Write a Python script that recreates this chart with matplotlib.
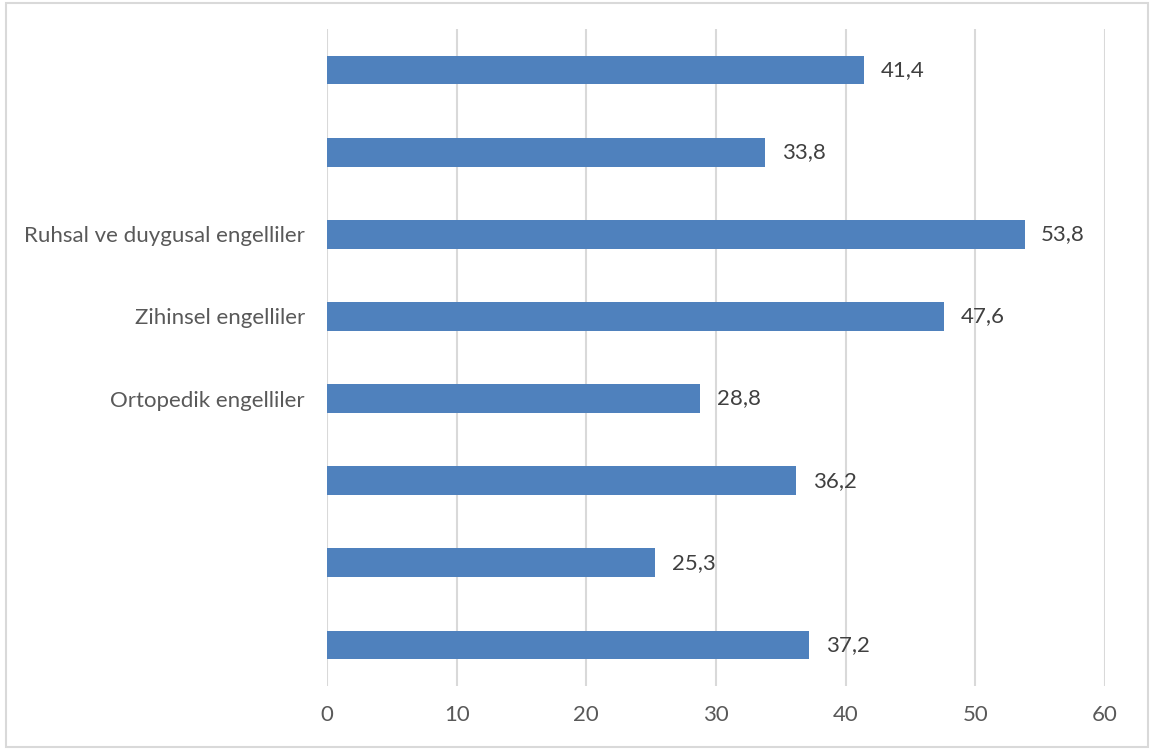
import matplotlib
matplotlib.use("Agg")
import matplotlib.pyplot as plt
from matplotlib.patches import Rectangle

# Categories listed top to bottom; unnamed groups keep an empty label
categories = ["", "", "Ruhsal ve duygusal engelliler", "Zihinsel engelliler",
              "Ortopedik engelliler", "", "", ""]
values = [41.4, 33.8, 53.8, 47.6, 28.8, 36.2, 25.3, 37.2]
x_ticks = [0, 10, 20, 30, 40, 50, 60]

plt.rcParams["font.family"] = ["Lato", "DejaVu Sans"]

fig = plt.figure(figsize=(11.58, 7.52), dpi=100)
ax = fig.add_axes([0.2824, 0.0878, 0.6718, 0.8736])

n = len(values)
ypos = list(range(n - 1, -1, -1))
ax.barh(ypos, values, height=0.35, color="#4F81BD", zorder=3)

for y, v in zip(ypos, values):
    ax.annotate(f"{v:.1f}".replace(".", ","), xy=(v, y), xytext=(12, 0),
                textcoords="offset points", va="center", ha="left",
                fontsize=16, color="#404040")

ax.set_xlim(0, 60)
ax.set_ylim(-0.5, n - 0.5)
ax.set_xticks(x_ticks)
ax.set_xticklabels([str(t) for t in x_ticks])
ax.set_yticks(ypos)
ax.set_yticklabels(categories)

ax.grid(axis="x", color="#D9D9D9", linewidth=1.5, zorder=0)
for s in ax.spines.values():
    s.set_visible(False)
ax.tick_params(axis="both", length=0, labelsize=16, labelcolor="#595959")
ax.tick_params(axis="y", pad=16)
ax.tick_params(axis="x", pad=14)

# Light frame around the whole chart
fig.patches.append(Rectangle((0.005, 0.006), 0.986, 0.99, transform=fig.transFigure,
                             fill=False, edgecolor="#D9D9D9", linewidth=1.5))

fig.savefig("out.png", dpi=100, facecolor="white")
